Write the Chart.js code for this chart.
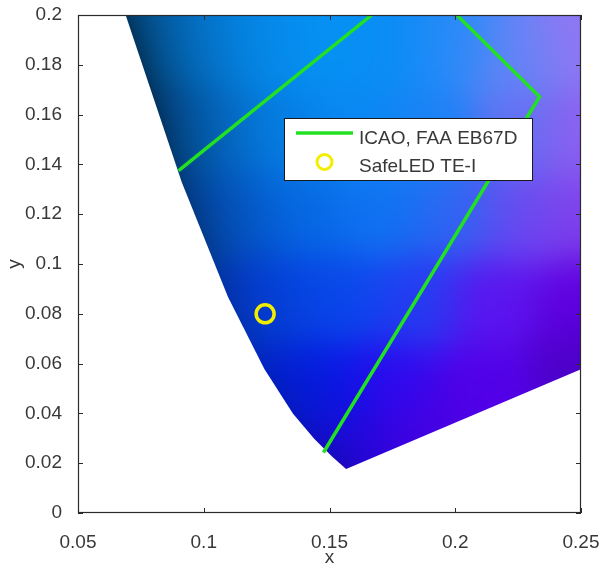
<!DOCTYPE html>
<html><head><meta charset="utf-8">
<script src="https://cdn.jsdelivr.net/npm/chart.js@4/dist/chart.umd.min.js"></script>
<style>html,body{margin:0;padding:0;background:#fff}canvas{display:block}</style>
</head><body>
<canvas id="c" width="601" height="565"></canvas>
<script>
// ---------------- DATA ----------------
// CIE 1931 spectral locus (450 nm .. 490 nm, then around the gamut to the red end)
const locusX = [0.1566, 0.1510, 0.1440, 0.1355, 0.1241, 0.1096, 0.0913, 0.0687, 0.0454, 0.0082, 0.0743, 0.3731, 0.6270, 0.7347];
const locusY = [0.0177, 0.0227, 0.0297, 0.0399, 0.0578, 0.0868, 0.1327, 0.2007, 0.2950, 0.5384, 0.8338, 0.6245, 0.3725, 0.2653];
// ICAO / FAA EB67D blue boundary (two segments, gap = null)
const icaoX = [0.0900, 0.1668, null, 0.2006, 0.2335, 0.1476];
const icaoY = [0.1375, 0.2000, null, 0.2000, 0.1672, 0.0243];
// SafeLED TE-I measured chromaticity
const ledX = [0.1244];
const ledY = [0.0800];
const seriesLabels = ['ICAO, FAA EB67D', 'SafeLED TE-I'];
const xTicks = [0.05, 0.1, 0.15, 0.2, 0.25];
const yTicks = [0, 0.02, 0.04, 0.06, 0.08, 0.1, 0.12, 0.14, 0.16, 0.18, 0.2];
const xTitle = 'x';
const yTitle = 'y';

// ---------------- STYLE ----------------
const FONT = "'Liberation Sans', Arial, sans-serif";
const TEXT = '#383838';
const FRAME = '#2a2a2a';
const GREEN = '#22e022';
const YELLOW = '#f2ee00';
// colour anchors of the chromaticity shading [x, y, colour]
const shade = [
  [0.075,0.195,'#0468b8'],[0.09,0.19,'#0474cc'],[0.105,0.19,'#0480e0'],[0.125,0.19,'#058cee'],
  [0.15,0.19,'#0592f4'],[0.175,0.19,'#0a8cf6'],[0.2,0.19,'#2a8af8'],[0.225,0.185,'#6684f6'],[0.25,0.19,'#9276f2'],
  [0.088,0.155,'#0460b8'],[0.105,0.15,'#0470d0'],[0.13,0.15,'#0580e8'],[0.16,0.15,'#0a88f4'],
  [0.19,0.15,'#1a82f6'],[0.225,0.15,'#6070f2'],[0.25,0.15,'#9060f0'],
  [0.1,0.12,'#0454c8'],[0.115,0.12,'#0460d8'],[0.14,0.12,'#066ae8'],[0.17,0.12,'#1072f2'],
  [0.2,0.12,'#2c66f2'],[0.225,0.12,'#6a48f0'],[0.25,0.12,'#8040ec'],
  [0.113,0.085,'#0440e0'],[0.13,0.085,'#0444e6'],[0.155,0.085,'#0a48ee'],[0.185,0.085,'#243cf2'],
  [0.215,0.085,'#5c14f0'],[0.25,0.085,'#6000e0'],
  [0.13,0.05,'#0224e0'],[0.15,0.05,'#0618ea'],[0.175,0.05,'#3008f0'],[0.21,0.05,'#5200e8'],[0.25,0.06,'#4c00c8'],
  [0.15,0.025,'#1010e0'],[0.165,0.022,'#3400e4'],[0.19,0.03,'#4800e0']
];
const anchors = shade.map(a => ({x:a[0], y:a[1], c:[1,3,5].map(k => parseInt(a[2].substr(k,2),16))}));
function edgeX(y){ // left (spectral) edge x at height y
  for (let i=0;i<8;i++){
    const y0=locusY[i], y1=locusY[i+1];
    if (y>=y0 && y<=y1) return locusX[i] + (locusX[i+1]-locusX[i])*(y-y0)/(y1-y0);
  }
  return y < locusY[0] ? locusX[0] : locusX[8];
}
function colorAt(x, y){
  let r=0,g=0,b=0,w=0; const s2 = 0.018*0.018;
  for (const a of anchors){
    const dx=x-a.x, dy=y-a.y; const ww=Math.exp(-(dx*dx+dy*dy)/s2);
    r+=ww*a.c[0]; g+=ww*a.c[1]; b+=ww*a.c[2]; w+=ww;
  }
  if (w < 1e-12) return [0,0,255];
  const d = Math.max(0, x - edgeX(y));
  const amp = 0.15 + 0.35*Math.min(1, Math.max(0, (y-0.06)/0.11));
  const f = 1 - amp*Math.exp(-d/0.016);
  return [f*r/w, f*g/w, f*b/w];
}

const fillPlugin = {
  id: 'locusFill',
  beforeDatasetsDraw(chart){
    const {ctx, chartArea:ca, scales:{x:sx, y:sy}} = chart;
    const w = Math.round(ca.right-ca.left), h = Math.round(ca.bottom-ca.top);
    const off = document.createElement('canvas'); off.width=w; off.height=h;
    const octx = off.getContext('2d'); const img = octx.createImageData(w,h);
    for (let j=0;j<h;j++){
      const yv = sy.getValueForPixel(ca.top+j+0.5);
      for (let i=0;i<w;i++){
        const xv = sx.getValueForPixel(ca.left+i+0.5);
        const c = colorAt(xv,yv); const k=(j*w+i)*4;
        img.data[k]=c[0]; img.data[k+1]=c[1]; img.data[k+2]=c[2]; img.data[k+3]=255;
      }
    }
    octx.putImageData(img,0,0);
    ctx.save();
    ctx.beginPath(); ctx.rect(ca.left, ca.top, ca.right-ca.left, ca.bottom-ca.top); ctx.clip();
    ctx.beginPath();
    locusX.forEach((xv,i) => { const px=sx.getPixelForValue(xv), py=sy.getPixelForValue(locusY[i]); if(i) ctx.lineTo(px,py); else ctx.moveTo(px,py); });
    ctx.closePath(); ctx.clip();
    ctx.drawImage(off, ca.left, ca.top);
    ctx.restore();
  }
};

const framePlugin = {
  id: 'frame',
  afterDatasetsDraw(chart){
    const {ctx, chartArea:ca, scales:{x:sx, y:sy}} = chart;
    ctx.save();
    ctx.strokeStyle = FRAME; ctx.lineWidth = 1.2;
    ctx.strokeRect(ca.left+0.5, ca.top+0.5, ca.right-ca.left-1, ca.bottom-ca.top-1);
    ctx.lineWidth = 1; const L = 5;
    ctx.beginPath();
    xTicks.forEach(v => { const p = Math.round(sx.getPixelForValue(v))+0.5;
      ctx.moveTo(p, ca.bottom); ctx.lineTo(p, ca.bottom-L); ctx.moveTo(p, ca.top); ctx.lineTo(p, ca.top+L); });
    yTicks.forEach(v => { const p = Math.round(sy.getPixelForValue(v))+0.5;
      ctx.moveTo(ca.left, p); ctx.lineTo(ca.left+L, p); ctx.moveTo(ca.right, p); ctx.lineTo(ca.right-L, p); });
    ctx.stroke();
    ctx.restore();
  }
};

const legendPlugin = {
  id: 'boxLegend',
  afterDraw(chart){
    const {ctx} = chart;
    const ds0 = chart.data.datasets[0], ds1 = chart.data.datasets[1];
    ctx.save();
    ctx.fillStyle = '#ffffff'; ctx.fillRect(284, 118, 248, 62);
    ctx.strokeStyle = '#1a1a1a'; ctx.lineWidth = 1; ctx.strokeRect(284.5, 118.5, 248, 62);
    ctx.strokeStyle = ds0.borderColor; ctx.lineWidth = 3.5;
    ctx.beginPath(); ctx.moveTo(296, 133); ctx.lineTo(353, 133); ctx.stroke();
    ctx.strokeStyle = ds1.pointBorderColor; ctx.lineWidth = 3;
    ctx.beginPath(); ctx.arc(324.5, 162, 7.5, 0, Math.PI*2); ctx.stroke();
    ctx.fillStyle = TEXT; ctx.font = '19px ' + FONT; ctx.textBaseline = 'middle'; ctx.textAlign = 'left';
    ctx.fillText(ds0.label, 359, 139);
    ctx.fillText(ds1.label, 359, 167);
    ctx.restore();
  }
};

const fmt = v => String(+(+v).toFixed(4));

new Chart(document.getElementById('c'), {
  type: 'scatter',
  data: {
    datasets: [
      { label: seriesLabels[0], data: icaoX.map((x,i)=>({x:x, y:icaoY[i]})), showLine: true, spanGaps: false,
        borderColor: GREEN, borderWidth: 3.5, pointRadius: 0, fill: false },
      { label: seriesLabels[1], data: ledX.map((x,i)=>({x:x, y:ledY[i]})), showLine: false,
        pointRadius: 9, pointBorderWidth: 3.5, pointBorderColor: YELLOW, pointBackgroundColor: 'rgba(0,0,0,0)',
        borderColor: YELLOW, backgroundColor: 'rgba(0,0,0,0)' }
    ]
  },
  options: {
    responsive: false, animation: false, devicePixelRatio: 1,
    layout: { padding: { left: 0, top: 15, right: 20, bottom: 0 } },
    plugins: { legend: { display: false }, tooltip: { enabled: false } },
    scales: {
      x: {
        type: 'linear', min: 0.05, max: 0.25,
        afterBuildTicks: s => { s.ticks = xTicks.map(v => ({value: v})); },
        afterFit: s => { s.height = 52; s.paddingLeft = 0; s.paddingRight = 0; },
        grid: { display: false }, border: { display: false },
        ticks: { color: TEXT, font: { family: FONT, size: 19 }, padding: 10, maxRotation: 0, autoSkip: false, callback: fmt },
        title: { display: true, text: xTitle, color: TEXT, font: { family: FONT, size: 19, lineHeight: 0.8 }, padding: { top: 0, bottom: 0 } }
      },
      y: {
        type: 'linear', min: 0, max: 0.2,
        afterBuildTicks: s => { s.ticks = yTicks.map(v => ({value: v})); },
        afterFit: s => { s.width = 78; s.paddingTop = 0; s.paddingBottom = 0; },
        grid: { display: false }, border: { display: false },
        ticks: { color: TEXT, font: { family: FONT, size: 19 }, padding: 8, autoSkip: false, callback: fmt },
        title: { display: true, text: yTitle, color: TEXT, font: { family: FONT, size: 19 }, padding: { top: 3, bottom: 0 } }
      }
    }
  },
  plugins: [fillPlugin, framePlugin, legendPlugin]
});
</script>
</body></html>
